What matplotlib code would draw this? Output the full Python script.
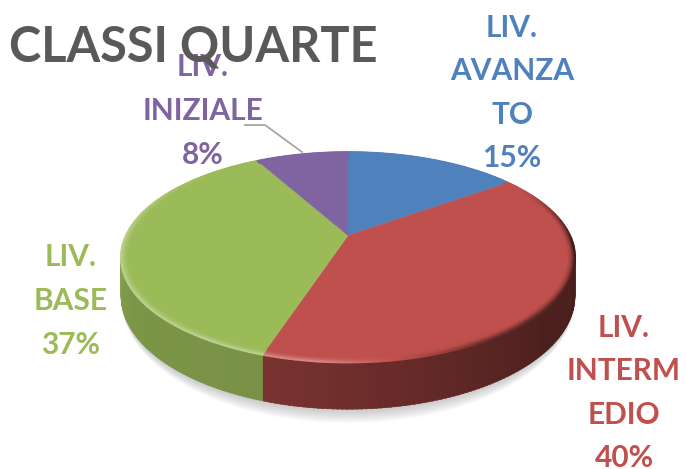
import numpy as np
import matplotlib
matplotlib.use("Agg")
import matplotlib.pyplot as plt
from matplotlib.collections import LineCollection, PolyCollection

labels = ["LIV.\nAVANZA\nTO\n15%", "LIV.\nINTERM\nEDIO\n40%", "LIV.\nBASE\n37%", "LIV.\nINIZIALE\n8%"]
values = [15, 40, 37, 8]
colors = ["#4f81bd", "#c0504d", "#9bbb59", "#8064a2"]
title = "CLASSI QUARTE"

plt.rcParams["font.family"] = ["Lato", "DejaVu Sans"]

# pie look, in pixels of the picture
CX, CY, RX, RY, K, DEPTH = 348, 235.5, 222, 100.6, 0.2075, 37


def project(theta, r=1.0):
    # theta in degrees, clockwise from the top of the pie
    t = np.radians(theta)
    u, v = r * np.sin(t), -r * np.cos(t)
    w = 1 - K * v
    return CX + RX * u / w, CY + RY * v / w, DEPTH / w


def mix(c1, c2, f):
    c1, c2 = np.array(matplotlib.colors.to_rgb(c1)), np.array(matplotlib.colors.to_rgb(c2))
    return tuple(c1 + (c2 - c1) * f)


fig = plt.figure(figsize=(6.87, 4.69), dpi=100)
ax = fig.add_axes([0, 0, 1, 1])
ax.set_xlim(0, 687)
ax.set_ylim(469, 0)
ax.axis("off")

edges = np.cumsum([0] + values) * 360 / sum(values)

# soft shadow under the pie, only below the front of the wall
arc = np.linspace(95, 265, 120)
for grow in np.linspace(14, 1, 12):
    x, y, d = project(arc)
    fade = np.sin(np.radians((arc - 95) * 180 / 170))
    sy = y + d + grow * fade
    ax.fill(np.r_[x, x[::-1]], np.r_[sy, (y + d)[::-1] - 4], color="#808080", alpha=0.04, lw=0, zorder=1)

# side wall, back to front
side_shades = {1: ([90, 130, 198], [0.36, 0.40, 0.64]), 2: ([198, 240, 285], [0.78, 0.80, 0.90])}
for i, (pts, shade) in side_shades.items():
    th = np.arange(edges[i], edges[i + 1], 1.0)
    th = th[(th > 78) & (th < 285)]
    polys, cols = [], []
    for a in th:
        b = min(a + 1.3, edges[i + 1])
        xa, ya, da = project(a)
        xb, yb, db = project(b)
        polys.append([(xa, ya), (xb, yb), (xb, yb + db), (xa, ya + da)])
        cols.append(mix("black", colors[i], np.interp(a, pts, shade)))
    ax.add_collection(PolyCollection(polys, facecolors=cols, edgecolors=cols, linewidths=0.5, zorder=2))

# top face
for i in range(len(values)):
    th = np.linspace(edges[i], edges[i + 1], 120)
    x, y, _ = project(th)
    ax.fill(np.r_[CX, x], np.r_[CY, y], color=colors[i], lw=0.3, zorder=3)

# bevel along the front edge: light on the left, dark on the right
for i in range(len(values)):
    th = np.arange(edges[i], edges[i + 1] + 0.5, 1.0)
    for r in np.linspace(0.965, 1.0, 7):
        f = ((r - 0.965) / 0.035) ** 2
        segs, cols = [], []
        for a, b in zip(th[:-1], th[1:]):
            xa, ya, _ = project(a, r)
            xb, yb, _ = project(b, r)
            segs.append([(xa, ya), (xb, yb)])
            s = np.interp(a, [60, 95, 150, 185, 270, 290, 315], [0, -0.7, -0.4, 0.3, 0.3, 0.15, 0])
            cols.append(mix(colors[i], "white" if s > 0 else "black", abs(s) * f))
        ax.add_collection(LineCollection(segs, colors=cols, linewidths=1.4, capstyle="round", zorder=4))

# leader line for the small slice
ax.plot([245, 265, 302], [125, 125, 152], color="#a6a6a6", lw=1.3, zorder=2)

label_pos = [(512, 93), (624, 393), (71, 301), (203, 111)]
for lab, c, (lx, ly) in zip(labels, colors, label_pos):
    ax.text(lx, ly, lab, color=c, fontsize=21.5, fontweight="bold", ha="center", va="center",
            linespacing=1.68, zorder=5)

ax.text(9, 47, title, color="#595959", fontsize=35, fontweight="bold", ha="left", va="center", zorder=6)

fig.savefig("out.png", dpi=100)
